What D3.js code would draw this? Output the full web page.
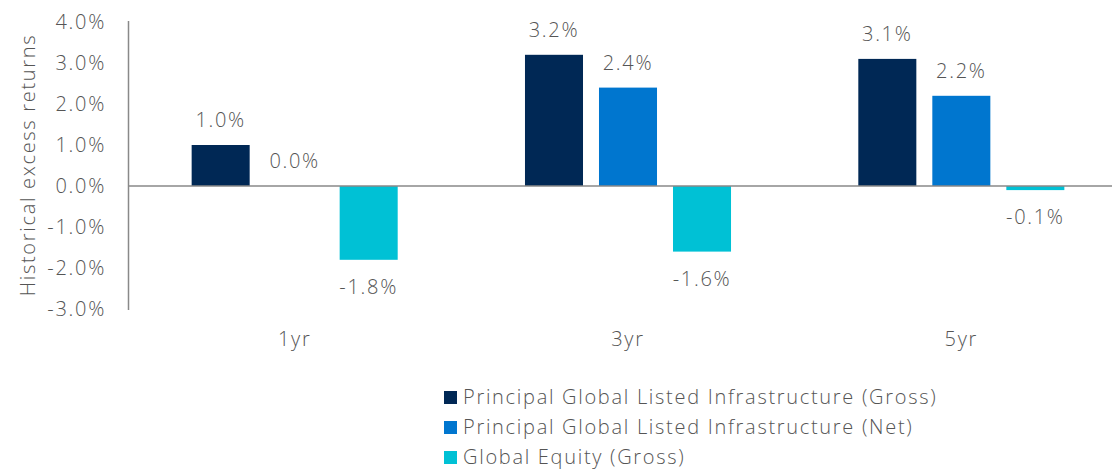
<!DOCTYPE html>
<html>
<head>
<meta charset="utf-8">
<script src="https://cdn.jsdelivr.net/npm/d3@7"></script>
<style>
	body { margin: 0; background: #fff; }
	svg text { font-family: 'Open Sans', 'Noto Sans', sans-serif; font-weight: 300; fill: #555; letter-spacing: 1.7px; }
</style>
</head>
<body>
<div class="chart"></div>
<script>
// data
const periods = [ '1yr', '3yr', '5yr' ];
const seriesNames = [
	'Principal Global Listed Infrastructure (Gross)',
	'Principal Global Listed Infrastructure (Net)',
	'Global Equity (Gross)'
];
const infraGross = [ 1.0, 3.2, 3.1 ];
const infraNet = [ 0.0, 2.4, 2.2 ];
const equityGross = [ -1.8, -1.6, -0.1 ];
const yTicks = [ 4, 3, 2, 1, 0, -1, -2, -3 ];

const colors = [ '#002855', '#0076cf', '#00c1d5' ];
const seriesValues = [ infraGross, infraNet, equityGross ];

const width = 1112;
const height = 469;

const svg = d3.select('.chart').append('svg').attr('width', width).attr('height', height);

const rows = periods.map((p, i) => ({ period: p, values: seriesValues.map((s) => s[i]) }));

const x0 = d3.scaleBand().domain(periods).range([ 128, 1128 ]);
const x1 = d3
	.scaleBand()
	.domain(d3.range(seriesNames.length))
	.range([ 0, x0.bandwidth() ])
	.paddingInner(0.216)
	.paddingOuter(0.86);

const y = d3.scaleLinear().domain([ -3, 4 ]).range([ 309, 22 ]);

// y axis labels
svg
	.append('g')
	.selectAll('text')
	.data(yTicks)
	.join('text')
	.attr('x', 106)
	.attr('y', (d) => y(d) + 7)
	.attr('text-anchor', 'end')
	.attr('font-size', 20)
	.text((d) => d.toFixed(1) + '%');

// axis line
svg
	.append('line')
	.attr('x1', 128.5)
	.attr('x2', 128.5)
	.attr('y1', y(4) - 1)
	.attr('y2', y(-3) + 1)
	.attr('stroke', '#898989')
	.attr('stroke-width', 1.5);

// y title
svg
	.append('text')
	.attr('transform', 'translate(35,165) rotate(-90)')
	.attr('text-anchor', 'middle')
	.attr('font-size', 20)
	.text('Historical excess returns');

// bars
const groups = svg
	.append('g')
	.selectAll('g')
	.data(rows)
	.join('g')
	.attr('transform', (d) => `translate(${x0(d.period)},0)`);

groups
	.selectAll('rect')
	.data((d) => d.values)
	.join('rect')
	.attr('x', (d, i) => x1(i))
	.attr('width', x1.bandwidth())
	.attr('y', (d) => y(Math.max(0, d)))
	.attr('height', (d) => Math.abs(y(d) - y(0)))
	.attr('fill', (d, i) => colors[i]);

groups
	.selectAll('text')
	.data((d) => d.values)
	.join('text')
	.attr('x', (d, i) => x1(i) + x1.bandwidth() / 2)
	.attr('y', (d) => (d >= 0 ? y(d) - 18 : y(d) + 34))
	.attr('text-anchor', 'middle')
	.attr('font-size', 20)
	.text((d) => d.toFixed(1) + '%');

// zero line
svg
	.append('line')
	.attr('x1', 128)
	.attr('x2', width)
	.attr('y1', y(0))
	.attr('y2', y(0))
	.attr('stroke', '#898989')
	.attr('stroke-width', 1.5);

// category labels
svg
	.append('g')
	.selectAll('text')
	.data(periods)
	.join('text')
	.attr('x', (d) => x0(d) + x0.bandwidth() / 2)
	.attr('y', 346)
	.attr('text-anchor', 'middle')
	.attr('font-size', 20)
	.text((d) => d);

// legend
const legend = svg
	.append('g')
	.attr('transform', 'translate(444,391)')
	.selectAll('g')
	.data(seriesNames)
	.join('g')
	.attr('transform', (d, i) => `translate(0,${i * 30})`);

legend.append('rect').attr('width', 13).attr('height', 13).attr('fill', (d, i) => colors[i]);
legend.append('text').attr('x', 19).attr('y', 13).attr('font-size', 20).text((d) => d);
</script>
</body>
</html>
